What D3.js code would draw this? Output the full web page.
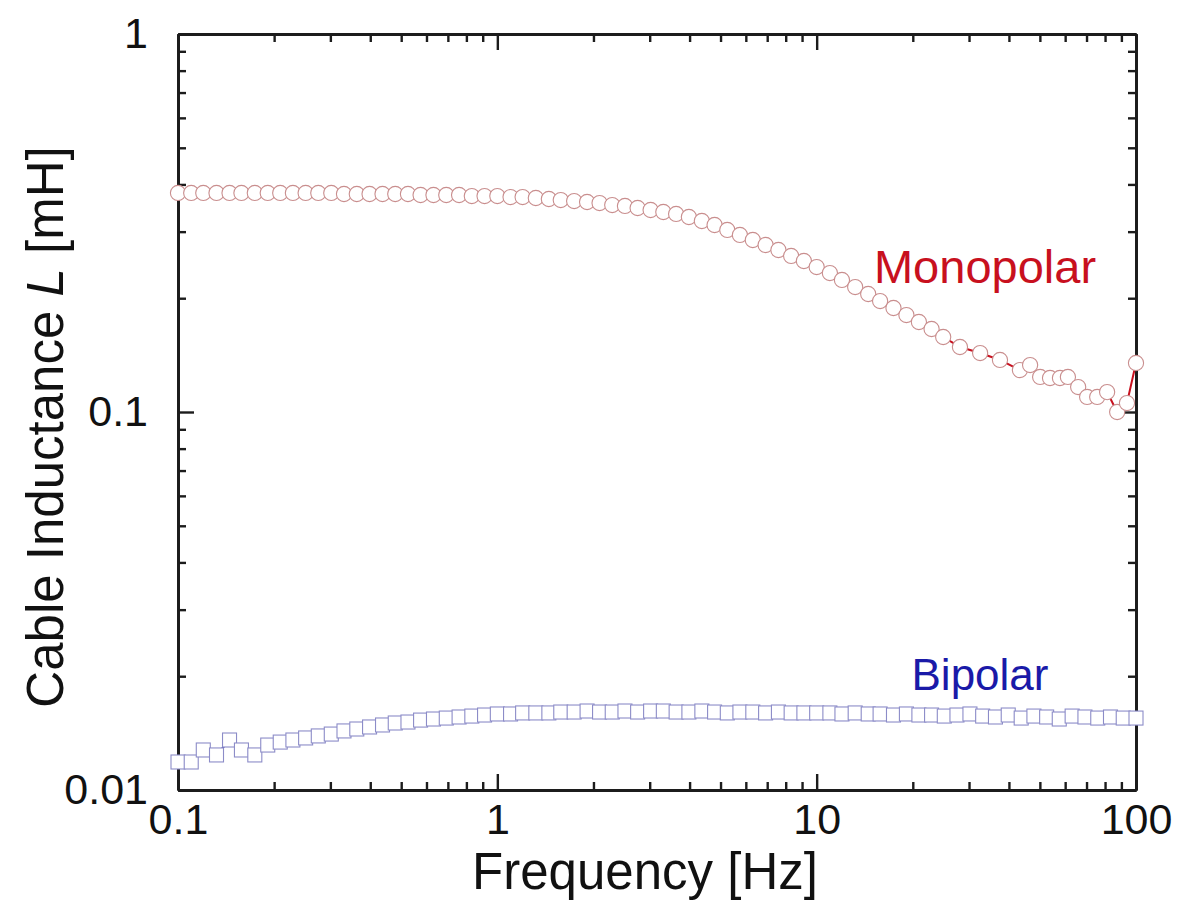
<!DOCTYPE html>
<html>
<head>
<meta charset="utf-8">
<script src="https://cdn.jsdelivr.net/npm/d3@7"></script>
<style>
  html, body { margin: 0; padding: 0; background: #fff; }
  svg { display: block; font-family: "Liberation Sans", Arial, Helvetica, sans-serif; }
</style>
</head>
<body>
<svg id="chart" width="1196" height="923"></svg>
<script>
// Frequency sweep of the bipolar measurement [Hz]
const freqBipolar = [
  0.1, 0.110, 0.120, 0.132, 0.145, 0.158, 0.174, 0.191, 0.209, 0.229,
  0.251, 0.275, 0.302, 0.331, 0.363, 0.398, 0.437, 0.479, 0.525, 0.575,
  0.631, 0.692, 0.759, 0.832, 0.912, 1.0, 1.10, 1.20, 1.32, 1.45,
  1.58, 1.74, 1.91, 2.09, 2.29, 2.51, 2.75, 3.02, 3.31, 3.63,
  3.98, 4.37, 4.79, 5.25, 5.75, 6.31, 6.92, 7.59, 8.32, 9.12,
  10, 11.0, 12.0, 13.2, 14.5, 15.8, 17.4, 19.1, 20.9, 22.9,
  25.1, 27.5, 30.2, 33.1, 36.3, 39.8, 43.7, 47.9, 52.5, 57.5,
  63.1, 69.2, 75.9, 83.2, 91.2, 100
];
// Bipolar cable inductance [mH]
const bipolarL = [
  0.01186, 0.01186, 0.01276, 0.01238, 0.01356, 0.01276, 0.01238, 0.01315, 0.01339, 0.01356,
  0.01373, 0.01390, 0.01406, 0.01433, 0.01450, 0.01468, 0.01486, 0.01504, 0.01513, 0.01531,
  0.01541, 0.01550, 0.01560, 0.01569, 0.01579, 0.01589, 0.01589, 0.01599, 0.01599, 0.01599,
  0.01608, 0.01608, 0.01618, 0.01608, 0.01608, 0.01618, 0.01608, 0.01618, 0.01618, 0.01608,
  0.01608, 0.01618, 0.01608, 0.01599, 0.01608, 0.01608, 0.01599, 0.01608, 0.01599, 0.01599,
  0.01599, 0.01599, 0.01589, 0.01599, 0.01589, 0.01589, 0.01579, 0.01589, 0.01579, 0.01579,
  0.01569, 0.01579, 0.01589, 0.01569, 0.01560, 0.01579, 0.01550, 0.01569, 0.01560, 0.01541,
  0.01569, 0.01560, 0.01550, 0.01560, 0.01550, 0.01550
];

// Frequency points of the monopolar measurement [Hz]
const freqMonopolar = [
  0.1, 0.110, 0.120, 0.132, 0.145, 0.158, 0.174, 0.191, 0.209, 0.229,
  0.251, 0.275, 0.302, 0.331, 0.363, 0.398, 0.437, 0.479, 0.525, 0.575,
  0.631, 0.692, 0.759, 0.832, 0.912, 1.0, 1.10, 1.20, 1.32, 1.45,
  1.58, 1.74, 1.91, 2.09, 2.29, 2.51, 2.75, 3.02, 3.31, 3.63,
  3.98, 4.37, 4.79, 5.25, 5.75, 6.31, 6.92, 7.59, 8.32, 9.12,
  10, 11.0, 12.0, 13.2, 14.5, 15.8, 17.4, 19.1, 20.9, 22.9,
  24.9, 28.1, 32.5, 37.5, 43.3, 46.6, 50.1, 53.8, 57.8, 61.2,
  65.9, 70.3, 75.6, 81.2, 87.3, 93.7, 100
];
// Monopolar cable inductance [mH]
const monopolarL = [
  0.3797, 0.3797, 0.3797, 0.3797, 0.3797, 0.3797, 0.3797, 0.3797, 0.3797, 0.3797,
  0.3797, 0.3797, 0.3797, 0.3773, 0.3773, 0.3773, 0.3773, 0.3773, 0.3773, 0.3750,
  0.3750, 0.3750, 0.3750, 0.3727, 0.3727, 0.3727, 0.3704, 0.3704, 0.3682, 0.3660,
  0.3637, 0.3615, 0.3594, 0.3571, 0.3528, 0.3508, 0.3465, 0.3423, 0.3381, 0.3341,
  0.3280, 0.3201, 0.3124, 0.3031, 0.2940, 0.2851, 0.2766, 0.2683, 0.2587, 0.2509,
  0.2418, 0.2331, 0.2235, 0.2141, 0.2052, 0.1966, 0.1884, 0.1805, 0.1730, 0.1658,
  0.1579, 0.1486, 0.1432, 0.1373, 0.1291, 0.1331, 0.1238, 0.1230, 0.1230, 0.1238,
  0.1164, 0.1096, 0.1096, 0.1129, 0.1000, 0.1056, 0.1348
];

const xMajor = [0.1, 1, 10, 100];
const xTickLabels = ["0.1", "1", "10", "100"];
const yMajor = [0.01, 0.1, 1];
const yTickLabels = ["0.01", "0.1", "1"];

const seriesNames = ["Monopolar", "Bipolar"];
const xTitle = "Frequency [Hz]";

const svg = d3.select("#chart");
const plot = { left: 178, right: 1136, top: 34, bottom: 790 };

const x = d3.scaleLog().domain([0.1, 100]).range([plot.left, plot.right]);
const y = d3.scaleLog().domain([0.01, 1]).range([plot.bottom, plot.top]);

const axisColor = "#1c1c1c";
const tickFont = 43;

const xMinor = x.ticks().filter(v => !xMajor.some(m => Math.abs(m - v) < 1e-9));
const yMinor = y.ticks().filter(v => !yMajor.some(m => Math.abs(m - v) < 1e-9));

function styleAxis(g) {
  g.select(".domain").attr("stroke", axisColor).attr("stroke-width", 2.8);
  g.selectAll(".tick line").attr("stroke", axisColor).attr("stroke-width", 2.4);
}

// Minor ticks (no labels) on all four sides, pointing into the plot
svg.append("g").attr("transform", `translate(0,${plot.bottom})`)
  .call(d3.axisBottom(x).tickValues(xMinor).tickSizeInner(-8).tickSizeOuter(0).tickFormat(""))
  .call(styleAxis);
svg.append("g").attr("transform", `translate(0,${plot.top})`)
  .call(d3.axisTop(x).tickValues(xMinor).tickSizeInner(-8).tickSizeOuter(0).tickFormat(""))
  .call(styleAxis);
svg.append("g").attr("transform", `translate(${plot.left},0)`)
  .call(d3.axisLeft(y).tickValues(yMinor).tickSizeInner(-8).tickSizeOuter(0).tickFormat(""))
  .call(styleAxis);
svg.append("g").attr("transform", `translate(${plot.right},0)`)
  .call(d3.axisRight(y).tickValues(yMinor).tickSizeInner(-8).tickSizeOuter(0).tickFormat(""))
  .call(styleAxis);

// Major ticks with labels
const xAxisG = svg.append("g").attr("transform", `translate(0,${plot.bottom})`)
  .call(d3.axisBottom(x).tickValues(xMajor).tickSizeInner(-16).tickSizeOuter(0)
    .tickPadding(13).tickFormat((d, i) => xTickLabels[i]))
  .call(styleAxis);
xAxisG.selectAll("text").attr("font-size", tickFont).attr("fill", "#111")
  .attr("font-family", "'Liberation Sans', Arial, sans-serif");

svg.append("g").attr("transform", `translate(0,${plot.top})`)
  .call(d3.axisTop(x).tickValues(xMajor).tickSizeInner(-16).tickSizeOuter(0).tickFormat(""))
  .call(styleAxis);

const yAxisG = svg.append("g").attr("transform", `translate(${plot.left},0)`)
  .call(d3.axisLeft(y).tickValues(yMajor).tickSizeInner(-16).tickSizeOuter(0)
    .tickPadding(30).tickFormat((d, i) => yTickLabels[i]))
  .call(styleAxis);
yAxisG.selectAll("text").attr("font-size", tickFont).attr("fill", "#111")
  .attr("font-family", "'Liberation Sans', Arial, sans-serif");

svg.append("g").attr("transform", `translate(${plot.right},0)`)
  .call(d3.axisRight(y).tickValues(yMajor).tickSizeInner(-16).tickSizeOuter(0).tickFormat(""))
  .call(styleAxis);

// Axis titles
svg.append("text")
  .attr("x", 645)
  .attr("y", 889)
  .attr("text-anchor", "middle")
  .attr("font-size", 51)
  .attr("fill", "#111")
  .text(xTitle);

const yTitle = svg.append("text")
  .attr("transform", `translate(63,427) rotate(-90)`)
  .attr("text-anchor", "middle")
  .attr("font-size", 51)
  .attr("fill", "#111");
yTitle.append("tspan").text("Cable Inductance ");
yTitle.append("tspan").attr("font-style", "italic").text("L");
yTitle.append("tspan").text(" [mH]");

// Series: thin connecting line under open markers
const mono = freqMonopolar.map((f, i) => ({ f, v: monopolarL[i] }));
const bip = freqBipolar.map((f, i) => ({ f, v: bipolarL[i] }));

const line = d3.line().x(d => x(d.f)).y(d => y(d.v));

svg.append("path").datum(mono)
  .attr("d", line).attr("fill", "none")
  .attr("stroke", "#c8101e").attr("stroke-width", 2);

svg.append("path").datum(bip)
  .attr("d", line).attr("fill", "none")
  .attr("stroke", "#2020a8").attr("stroke-width", 2);

svg.append("g").selectAll("circle").data(mono).join("circle")
  .attr("cx", d => x(d.f)).attr("cy", d => y(d.v)).attr("r", 7.6)
  .attr("fill", "#fff").attr("stroke", "#c98e8e").attr("stroke-width", 1.1);

const sq = 14;
svg.append("g").selectAll("rect").data(bip).join("rect")
  .attr("x", d => x(d.f) - sq / 2).attr("y", d => y(d.v) - sq / 2)
  .attr("width", sq).attr("height", sq)
  .attr("fill", "#fff").attr("stroke", "#8c8cc8").attr("stroke-width", 1.1);

// Series labels
svg.append("text")
  .attr("x", 985).attr("y", 283)
  .attr("text-anchor", "middle")
  .attr("font-size", 47)
  .attr("fill", "#c8101e")
  .text(seriesNames[0]);

svg.append("text")
  .attr("x", 980).attr("y", 690)
  .attr("text-anchor", "middle")
  .attr("font-size", 44)
  .attr("fill", "#1a1aa8")
  .text(seriesNames[1]);
</script>
</body>
</html>
